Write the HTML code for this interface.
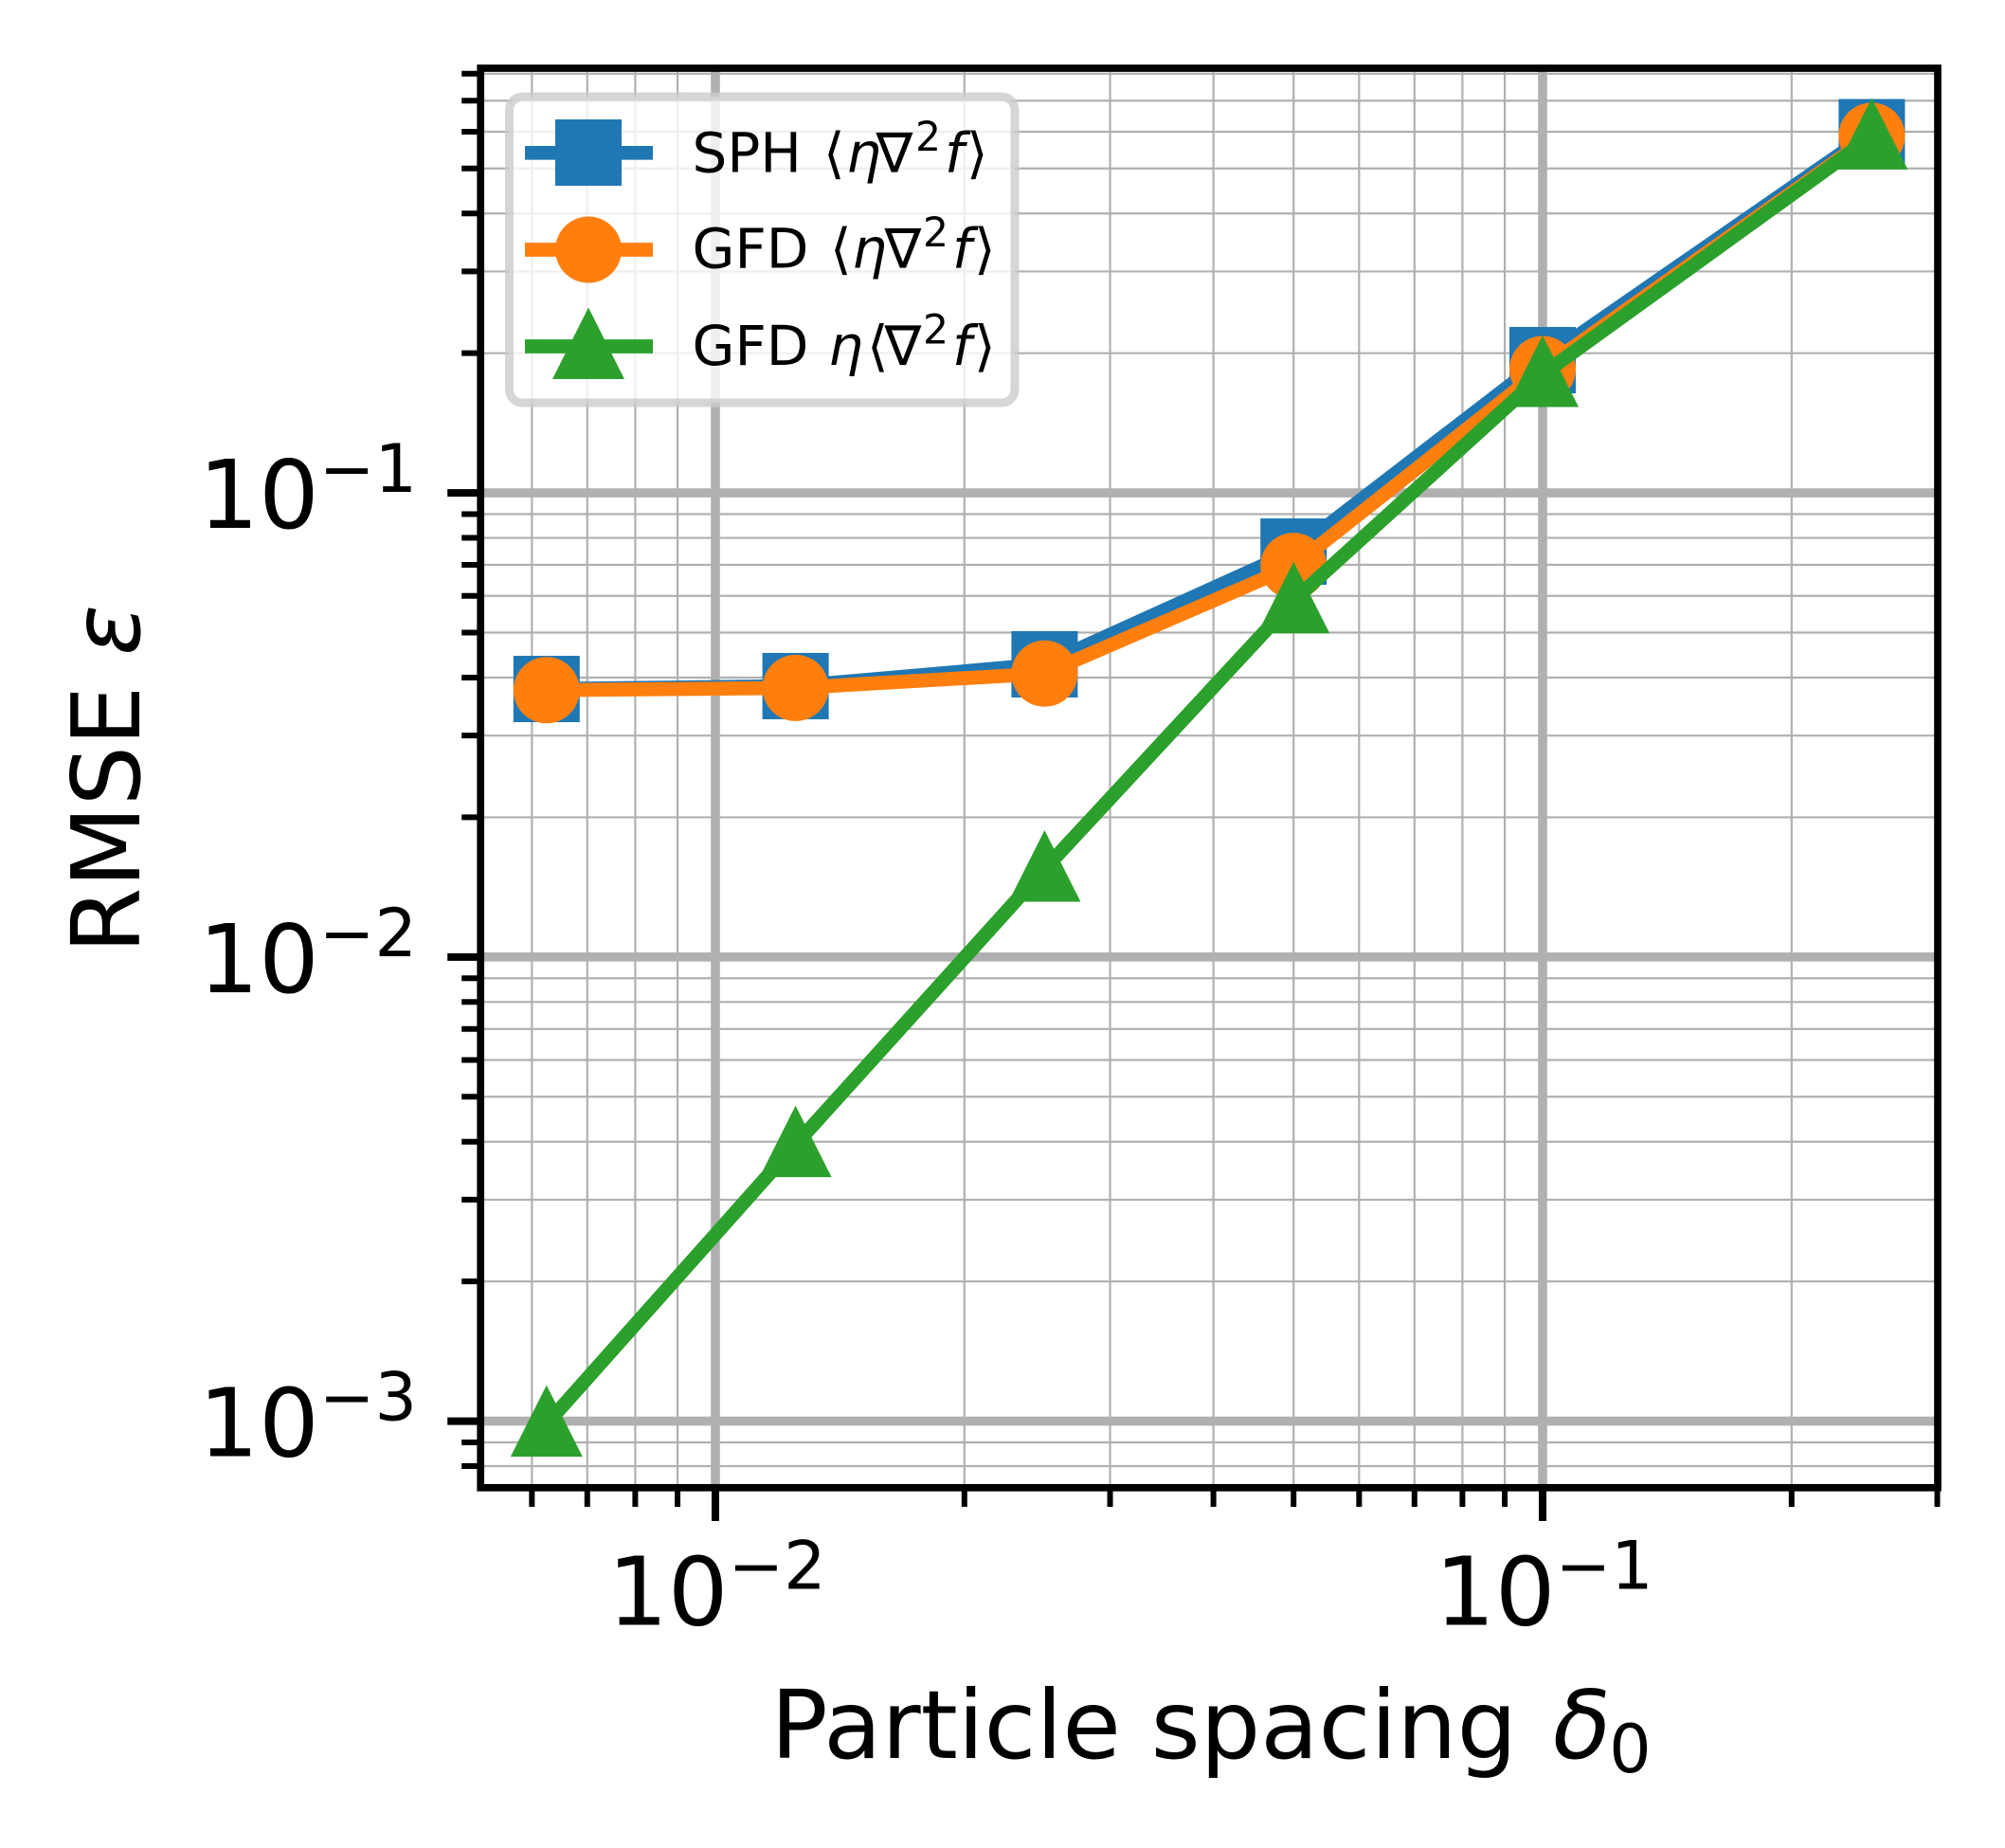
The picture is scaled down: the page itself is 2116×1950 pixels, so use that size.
<!DOCTYPE html>
<html lang="en">
<head>
<meta charset="utf-8">
<title>RMSE vs particle spacing</title>
<style>
html,body{margin:0;padding:0;background:#fff;}
svg{display:block;}
text{font-family:"DejaVu Sans","Liberation Sans",sans-serif;fill:#000;}
.m{font-style:italic;}
</style>
</head>
<body>
<svg id="chart" xmlns="http://www.w3.org/2000/svg" width="2116" height="1950" viewBox="0 0 2116 1950">
  <rect x="0" y="0" width="2116" height="1950" fill="#fff"/>
  <defs><clipPath id="plot-clip"><rect x="507" y="72" width="1538" height="1498"/></clipPath></defs>
  <g id="grid" clip-path="url(#plot-clip)"></g>
  <g id="series"></g>
  <g id="ticks"></g>
  <rect x="507.2" y="72" width="1537.8" height="1497.8" fill="none" stroke="#000" stroke-width="7.7"/>
  <g id="tick-labels"></g>
  <text x="1278" y="1855" font-size="100" text-anchor="middle">Particle spacing <tspan class="m" dx="6">δ</tspan><tspan font-size="70" dy="15" dx="-2">0</tspan></text>
  <text x="147" y="822" font-size="100" text-anchor="middle" transform="rotate(-90 147 822)">RMSE <tspan class="m">ε</tspan></text>

  <g>
    <rect x="537.5" y="102" width="533.5" height="323" rx="14" ry="14" fill="#fff" fill-opacity="0.8" stroke="#ccc" stroke-opacity="0.8" stroke-width="9"/>
    <g>
      <line x1="554" x2="689" y1="161.3" y2="161.3" stroke="#1f77b4" stroke-width="14.7"/>
      <rect x="586" y="126" width="70" height="70" fill="#1f77b4"/>
      <text y="181.7" font-size="58"><tspan x="730.5">SPH</tspan><tspan x="869">⟨</tspan><tspan class="m" x="893">η</tspan><tspan x="924.5">∇</tspan><tspan x="966" dy="-22.7" font-size="42.5">2</tspan><tspan class="m" x="997" dy="22.7">f</tspan><tspan x="1020">⟩</tspan></text>
    </g>
    <g>
      <line x1="554" x2="689" y1="263.5" y2="263.5" stroke="#ff7f0e" stroke-width="14.7"/>
      <circle cx="621" cy="263.5" r="35" fill="#ff7f0e"/>
      <text y="282.7" font-size="58"><tspan x="730.5">GFD</tspan><tspan x="876">⟨</tspan><tspan class="m" x="899">η</tspan><tspan x="933.5">∇</tspan><tspan x="974" dy="-22.7" font-size="42.5">2</tspan><tspan class="m" x="1005" dy="22.7">f</tspan><tspan x="1028">⟩</tspan></text>
    </g>
    <g>
      <line x1="554" x2="689" y1="365.5" y2="365.5" stroke="#2ca02c" stroke-width="14.7"/>
      <polygon points="621,324.5 583,400 659,400" fill="#2ca02c"/>
      <text y="385" font-size="58"><tspan x="730.5">GFD</tspan><tspan class="m" x="874">η</tspan><tspan x="915">⟨</tspan><tspan x="933.5">∇</tspan><tspan x="974" dy="-22.7" font-size="42.5">2</tspan><tspan class="m" x="1005" dy="22.7">f</tspan><tspan x="1028">⟩</tspan></text>
    </g>
  </g>
</svg>
<script>
const spacing = [0.00625, 0.0125, 0.025, 0.05, 0.1, 0.25];
const sphValues = [0.03780, 0.03835, 0.04272, 0.07474, 0.1932, 0.5986];
const gfdMeanProductValues = [0.03758, 0.03800, 0.04081, 0.0696, 0.1848, 0.5880];
const gfdEtaMeanValues = [0.000986, 0.003945, 0.01547, 0.05862, 0.1801, 0.5851];
const xMajorTicks = [0.01, 0.1];
const xMajorLabels = ["\u22122", "\u22121"];
const xMinorTicks = [0.006, 0.007, 0.008, 0.009, 0.02, 0.03, 0.04, 0.05, 0.06, 0.07, 0.08, 0.09, 0.2, 0.3];
const yMajorTicks = [0.001, 0.01, 0.1];
const yMajorLabels = ["\u22123", "\u22122", "\u22121"];
const yMinorTicks = [0.0008, 0.0009, 0.002, 0.003, 0.004, 0.005, 0.006, 0.007, 0.008, 0.009, 0.02, 0.03, 0.04, 0.05, 0.06, 0.07, 0.08, 0.09, 0.2, 0.3, 0.4, 0.5, 0.6, 0.7, 0.8];

const SVG_NS = "http://www.w3.org/2000/svg";
function xScale(v) { return 755 + 873 * (Math.log10(v) + 2); }
function yScale(v) { return 520.1 + 489.75 * (-1 - Math.log10(v)); }
function make(tag, parent, attrs) {
  const el = document.createElementNS(SVG_NS, tag);
  for (const k in attrs) el.setAttribute(k, attrs[k]);
  parent.appendChild(el);
  return el;
}
const gridG = document.getElementById("grid");
const ticksG = document.getElementById("ticks");
const labelsG = document.getElementById("tick-labels");
const seriesG = document.getElementById("series");

function gridLineX(v, w) {
  const el = make("line", gridG, { x1: xScale(v), x2: xScale(v), y1: 72, y2: 1570, stroke: "#b0b0b0", "stroke-width": w });
  
  
}
function gridLineY(v, w) {
  const el = make("line", gridG, { x1: 507, x2: 2045, y1: yScale(v), y2: yScale(v), stroke: "#b0b0b0", "stroke-width": w });
  
  
}
function tickX(v, len, w) {
  const el = make("line", ticksG, { x1: xScale(v), x2: xScale(v), y1: 1570, y2: 1570 + len, stroke: "#000", "stroke-width": w });
  
  
}
function tickY(v, len, w) {
  const el = make("line", ticksG, { x1: 507.2 - len, x2: 507.2, y1: yScale(v), y2: yScale(v), stroke: "#000", "stroke-width": w });
  
  
}
function powerLabel(x, y, anchor, exponent) {
  const t = make("text", labelsG, { x: x, y: y, "font-size": 100, "text-anchor": anchor });
  t.appendChild(document.createTextNode("10"));
  const s = make("tspan", t, { dy: -38, "font-size": 70 });
  s.textContent = exponent;
  return t;
}

xMinorTicks.forEach(function (v) { gridLineX(v, 2.2); tickX(v, 20, 6); });
yMinorTicks.forEach(function (v) { gridLineY(v, 2.2); tickY(v, 20, 6); });
xMajorTicks.forEach(function (v, i) {
  gridLineX(v, 9.6);
  tickX(v, 35, 8);
  const label = powerLabel(xScale(v) + 1.5, 1714.7, "middle", xMajorLabels[i]);
  
  
});
yMajorTicks.forEach(function (v, i) {
  gridLineY(v, 9.6);
  tickY(v, 35, 8);
  const label = powerLabel(440, yScale(v) + 37, "end", yMajorLabels[i]);
  
  
});

function drawLine(values, color) {
  const pts = values.map(function (v, i) { return xScale(spacing[i]) + "," + yScale(v); }).join(" ");
  return make("polyline", seriesG, { points: pts, fill: "none", stroke: color, "stroke-width": 14.7, "stroke-linejoin": "round" });
}

const sphLine = drawLine(sphValues, "#1f77b4");


sphValues.forEach(function (v, i) {
  const m = make("rect", seriesG, { x: xScale(spacing[i]) - 35, y: yScale(v) - 35, width: 70, height: 70, fill: "#1f77b4" });
  
  
});

const gfdLine = drawLine(gfdMeanProductValues, "#ff7f0e");


gfdMeanProductValues.forEach(function (v, i) {
  const m = make("circle", seriesG, { cx: xScale(spacing[i]), cy: yScale(v), r: 35, fill: "#ff7f0e" });
  
  
});

const etaLine = drawLine(gfdEtaMeanValues, "#2ca02c");


gfdEtaMeanValues.forEach(function (v, i) {
  const cx = xScale(spacing[i]);
  const cy = yScale(v);
  const m = make("polygon", seriesG, { points: cx + "," + (cy - 41) + " " + (cx - 38) + "," + (cy + 34.5) + " " + (cx + 38) + "," + (cy + 34.5), fill: "#2ca02c" });
  
  
});
</script>
</body>
</html>
